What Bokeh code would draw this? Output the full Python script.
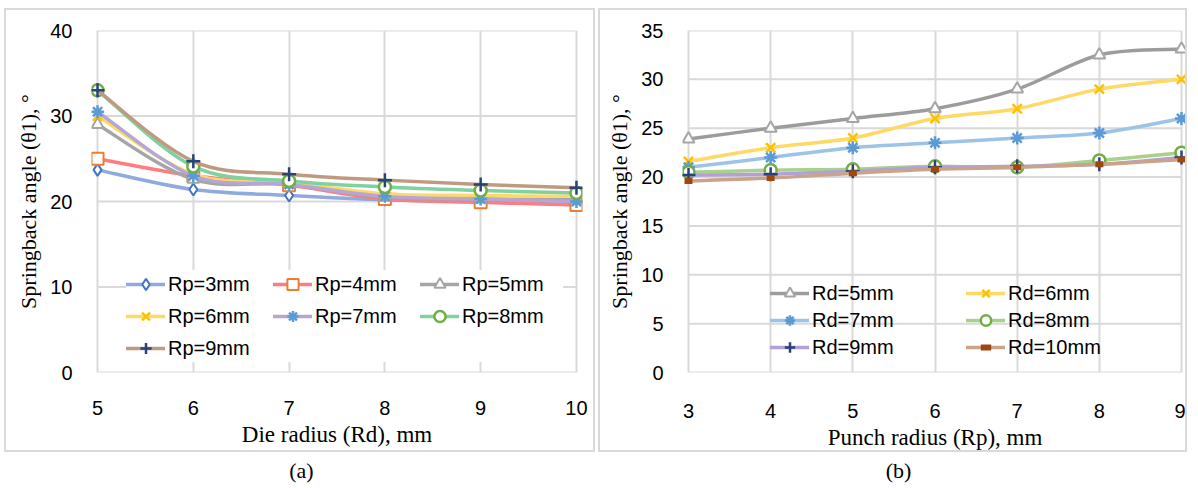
from bokeh.plotting import figure
from bokeh.models import Range1d, Legend, LegendItem, FixedTicker, Div
from bokeh.layouts import row, column
from bokeh.embed import file_html
from bokeh.resources import INLINE

# ---------------- data: panel (a) ----------------
die_radius = [5, 6, 7, 8, 9, 10]
a_labels = ["Rp=3mm", "Rp=4mm", "Rp=5mm", "Rp=6mm", "Rp=7mm", "Rp=8mm", "Rp=9mm"]
rp3 = [23.7, 21.4, 20.7, 20.2, 20.1, 19.6]
rp4 = [25.0, 23.0, 21.9, 20.3, 19.9, 19.6]
rp5 = [29.0, 22.6, 22.0, 20.5, 20.3, 20.2]
rp6 = [30.0, 23.2, 22.2, 20.9, 20.7, 20.6]
rp7 = [30.5, 23.0, 22.0, 20.6, 20.3, 20.0]
rp8 = [33.0, 24.1, 22.4, 21.7, 21.3, 21.0]
rp9 = [33.0, 24.7, 23.2, 22.5, 22.0, 21.6]
a_series = [rp3, rp4, rp5, rp6, rp7, rp8, rp9]
a_yticks = [0, 10, 20, 30, 40]

# ---------------- data: panel (b) ----------------
punch_radius = [3, 4, 5, 6, 7, 8, 9]
b_labels = ["Rd=5mm", "Rd=6mm", "Rd=7mm", "Rd=8mm", "Rd=9mm", "Rd=10mm"]
rd5 = [23.9, 25.0, 26.0, 27.0, 29.0, 32.5, 33.1]
rd6 = [21.6, 23.0, 24.0, 26.0, 27.0, 29.0, 30.0]
rd7 = [21.0, 22.0, 23.0, 23.5, 24.0, 24.5, 26.0]
rd8 = [20.5, 20.7, 20.8, 21.1, 21.0, 21.7, 22.5]
rd9 = [20.2, 20.3, 20.6, 21.0, 21.1, 21.3, 22.0]
rd10 = [19.6, 19.9, 20.4, 20.8, 21.0, 21.3, 21.8]
b_series = [rd5, rd6, rd7, rd8, rd9, rd10]
b_yticks = [0, 5, 10, 15, 20, 25, 30, 35]

# ---------------- styles ----------------
a_style = [
    dict(line="#8FAADC", marker="diamond", mc="#4472C4", fill="white", size=12, lw=2),
    dict(line="#FF7C80", marker="square", mc="#ED7D31", fill="white", size=12, lw=2),
    dict(line="#A5A5A5", marker="triangle", mc="#A5A5A5", fill="white", size=12, lw=2),
    dict(line="#FFD966", marker="x", mc="#FFC000", fill=None, size=13, lw=2.5),
    dict(line="#B4A7D6", marker="asterisk", mc="#5B9BD5", fill=None, size=13, lw=2.5),
    dict(line="#7FD1A0", marker="circle", mc="#70AD47", fill="white", size=12, lw=2.5),
    dict(line="#C09A80", marker="cross", mc="#264478", fill=None, size=14, lw=2.5),
]
b_style = [
    dict(line="#9C9C9C", marker="triangle", mc="#A5A5A5", fill="white", size=12, lw=2),
    dict(line="#FFD966", marker="x", mc="#FFC000", fill=None, size=13, lw=2.5),
    dict(line="#9DC3E6", marker="asterisk", mc="#5B9BD5", fill=None, size=13, lw=2.5),
    dict(line="#A9D18E", marker="circle", mc="#70AD47", fill="white", size=12, lw=2.5),
    dict(line="#B4A0D6", marker="cross", mc="#264478", fill=None, size=14, lw=2.5),
    dict(line="#C9A48A", marker="dash", mc="#9E480E", fill=None, size=8, lw=6),
]

GRID = "#D9D9D9"
SANS = "Liberation Sans"
SERIF = "Liberation Serif"


def smooth(xs, ys):
    n = len(xs)
    out = dict(x0=[], y0=[], x1=[], y1=[], cx0=[], cy0=[], cx1=[], cy1=[])
    for i in range(n - 1):
        a = max(i - 1, 0)
        d = min(i + 2, n - 1)
        out["x0"].append(xs[i]); out["y0"].append(ys[i])
        out["x1"].append(xs[i + 1]); out["y1"].append(ys[i + 1])
        out["cx0"].append(xs[i] + (xs[i + 1] - xs[a]) / 6.0)
        out["cy0"].append(ys[i] + (ys[i + 1] - ys[a]) / 6.0)
        out["cx1"].append(xs[i + 1] - (xs[d] - xs[i]) / 6.0)
        out["cy1"].append(ys[i + 1] - (ys[d] - ys[i]) / 6.0)
    return out


def make_panel(xs, series, labels, styles, yticks, xlabel, w, h, pad, borders,
               leg_loc, ncols, glyph_h, leg_spacing, label_w, leg_fill, x_standoff):
    bl, br, bt, bb = borders
    p = figure(width=w, height=h,
               x_range=Range1d(xs[0] - pad, xs[-1] + pad),
               y_range=Range1d(yticks[0], yticks[-1]),
               output_backend="svg", toolbar_location=None,
               min_border_left=bl, min_border_right=br,
               min_border_top=bt, min_border_bottom=bb)
    p.outline_line_color = None
    p.background_fill_color = "white"
    p.border_fill_color = "white"

    p.xaxis.ticker = FixedTicker(ticks=xs)
    p.yaxis.ticker = FixedTicker(ticks=yticks)
    for ax in (p.xaxis[0], p.yaxis[0]):
        ax.axis_line_color = None
        ax.major_tick_line_color = None
        ax.minor_tick_line_color = None
        ax.major_label_text_font = SANS
        ax.major_label_text_font_size = "20px"
        ax.major_label_text_color = "#000000"
        ax.axis_label_text_font = SERIF
        ax.axis_label_text_font_style = "normal"
        ax.axis_label_text_color = "#000000"
    p.xaxis.major_label_standoff = x_standoff
    p.yaxis.major_label_standoff = 13
    p.xaxis.axis_label = xlabel
    p.xaxis.axis_label_text_font_size = "23px"
    p.xaxis.axis_label_standoff = 4
    p.yaxis.axis_label = "Springback angle (θ1), °"
    p.yaxis.axis_label_text_font_size = "22px"
    p.yaxis.axis_label_standoff = 6

    p.xgrid.grid_line_color = GRID
    p.xgrid.grid_line_width = 2
    p.ygrid.grid_line_color = None
    p.segment(x0=[xs[0]] * len(yticks), x1=[xs[-1]] * len(yticks),
              y0=yticks, y1=yticks, line_color=GRID, line_width=2)

    items = []
    for ys, lab, st in zip(series, labels, styles):
        sm = smooth(xs, ys)
        br_ = p.bezier(line_color=st["line"], line_width=3.5, line_cap="round", **sm)
        sr = p.scatter(xs, ys, marker=st["marker"], size=st["size"],
                       line_color=st["mc"], line_width=st["lw"],
                       fill_color=st["fill"] if st["fill"] else None)
        items.append(LegendItem(label=lab, renderers=[br_, sr]))

    leg = Legend(items=items, orientation="horizontal", ncols=ncols,
                 location=leg_loc, padding=0, margin=0,
                 glyph_width=39, glyph_height=glyph_h, spacing=leg_spacing,
                 label_standoff=3, label_width=label_w,
                 label_text_font=SANS, label_text_font_size="20px",
                 label_text_color="#000000",
                 border_line_color=None,
                 background_fill_color="white",
                 background_fill_alpha=1.0 if leg_fill else 0.0)
    p.add_layout(leg, "center")
    p.styles = {"border": "2px solid #D9D9D9"}
    return p


pa = make_panel(die_radius, a_series, a_labels, a_style, a_yticks, "Die radius (Rd), mm",
                591, 444, 0.063, (85, 15, 20, 82),
                (35, 10), 3, 28, 4, 101, True, 22)
pb = make_panel(punch_radius, b_series, b_labels, b_style, b_yticks, "Punch radius (Rp), mm",
                589, 444, 0.073, (82, 2, 15, 73),
                (88, 12), 2, 26, 1, 153, False, 25)
pa.margin = (8, 0, 0, 4)
pb.margin = (8, 0, 0, 3)

cap_style = {"font-family": SERIF, "font-size": "22px", "color": "#000000", "text-align": "center", "width": "100%"}
cap_a = Div(text="(a)", width=595, height=26, styles=cap_style, margin=(3, 0, 0, 4))
cap_b = Div(text="(b)", width=593, height=26, styles=cap_style, margin=(3, 0, 0, 3))

layout = column(row(pa, pb), row(cap_a, cap_b))

open("out.html", "w").write(file_html(layout, INLINE))
